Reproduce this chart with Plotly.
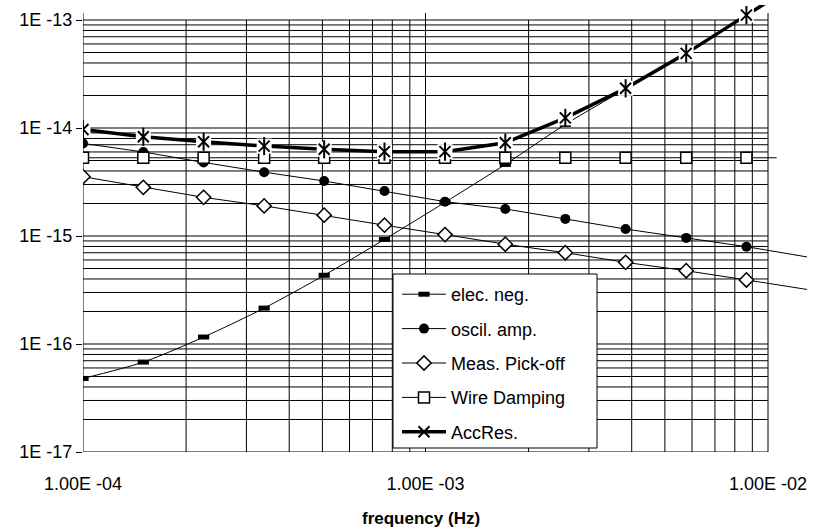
import plotly.graph_objects as go

# ---------------- data ----------------
freq = [1.0e-4, 1.5e-4, 2.25e-4, 3.38e-4, 5.06e-4, 7.59e-4,
        1.14e-3, 1.71e-3, 2.56e-3, 3.84e-3, 5.77e-3, 8.65e-3]
elec_neg = [4.8e-17, 6.8e-17, 1.16e-16, 2.15e-16, 4.33e-16, 9.3e-16,
            2.05e-15, 4.6e-15, 1.08e-14, 2.3e-14, 4.9e-14, 1.1e-13]
oscil_amp = [7.2e-15, 6.0e-15, 4.8e-15, 3.9e-15, 3.23e-15, 2.61e-15,
             2.08e-15, 1.78e-15, 1.44e-15, 1.16e-15, 9.6e-16, 7.96e-16]
meas_pickoff = [3.54e-15, 2.82e-15, 2.28e-15, 1.9e-15, 1.56e-15, 1.26e-15,
                1.03e-15, 8.4e-16, 7.0e-16, 5.7e-16, 4.77e-16, 3.92e-16]
wire_damping = [5.3e-15, 5.3e-15, 5.3e-15, 5.3e-15, 5.3e-15, 5.3e-15,
                5.3e-15, 5.3e-15, 5.3e-15, 5.3e-15, 5.3e-15, 5.3e-15]
acc_res = [9.7e-15, 8.3e-15, 7.46e-15, 6.8e-15, 6.35e-15, 6.04e-15,
           6.04e-15, 7.31e-15, 1.24e-14, 2.33e-14, 4.91e-14, 1.11e-13]

# line continuations beyond the last marker
ext_freq = 1.3e-2
ext_elec = 2.5e-13
ext_osc = 6.4e-16
ext_meas = 3.2e-16
ext_acc = 2.5e-13
ext_wire_freq = 1.06e-2

x_tickvals = [1e-4, 1e-3, 1e-2]
x_ticktext = ["1.00E -04", "1.00E -03", "1.00E -02"]
y_tickvals = [1e-17, 1e-16, 1e-15, 1e-14, 1e-13]
y_ticktext = ["1E -17", "1E -16", "1E -15", "1E -14", "1E -13"]

names = ["elec. neg.", "oscil. amp.", "Meas. Pick-off", "Wire Damping", "AccRes."]

FONT = "Liberation Sans, Arial, sans-serif"

fig = go.Figure()

# ---------------- grid (limited to the 1e-4..1e-2 x 1e-17..1e-13 box) --------
gx, gy = [], []
for e in (-17, -16, -15, -14):
    for k in range(1, 10):
        v = k * 10.0 ** e
        gx += [1e-4, 1e-2, None]
        gy += [v, v, None]
gx += [1e-4, 1e-2, None]
gy += [1e-13, 1e-13, None]
for e in (-4, -3):
    for k in range(2, 10):
        v = k * 10.0 ** e
        gx += [v, v, None]
        gy += [1e-17, 1e-13, None]
for v in x_tickvals:
    gx += [v, v, None]
    gy += [1e-17, 1.16e-13, None]
fig.add_trace(go.Scatter(x=gx, y=gy, mode="lines", showlegend=False,
                         hoverinfo="skip", line=dict(color="black", width=1)))

thin = dict(color="black", width=1)

# elec. neg.
fig.add_trace(go.Scatter(x=[freq[-1], ext_freq], y=[elec_neg[-1], ext_elec], mode="lines",
                         showlegend=False, line=thin))
fig.add_trace(go.Scatter(x=freq, y=elec_neg, mode="lines+markers", name=names[0],
                         legendgroup="a",
                         line=dict(color="black", width=1, shape="spline", smoothing=0.8),
                         marker=dict(symbol="line-ew", size=8, color="black",
                                     line=dict(color="black", width=5))))
# oscil. amp.
fig.add_trace(go.Scatter(x=[freq[-1], ext_freq], y=[oscil_amp[-1], ext_osc], mode="lines",
                         showlegend=False, line=thin))
fig.add_trace(go.Scatter(x=freq, y=oscil_amp, mode="lines+markers", name=names[1],
                         legendgroup="b", line=thin,
                         marker=dict(symbol="circle", size=10, color="black")))
# Meas. Pick-off
fig.add_trace(go.Scatter(x=[freq[-1], ext_freq], y=[meas_pickoff[-1], ext_meas], mode="lines",
                         showlegend=False, line=thin))
fig.add_trace(go.Scatter(x=freq, y=meas_pickoff, mode="lines+markers", name=names[2],
                         legendgroup="c", line=thin,
                         marker=dict(symbol="diamond", size=11, color="white",
                                     line=dict(color="black", width=1.5))))
# Wire Damping
fig.add_trace(go.Scatter(x=[freq[-1], ext_wire_freq], y=[wire_damping[-1], wire_damping[-1]],
                         mode="lines", showlegend=False, line=thin))
fig.add_trace(go.Scatter(x=freq, y=wire_damping, mode="lines+markers", name=names[3],
                         legendgroup="d", line=thin,
                         marker=dict(symbol="square", size=11, color="white",
                                     line=dict(color="black", width=1.5))))
# AccRes.
fig.add_trace(go.Scatter(x=[freq[-1], ext_freq], y=[acc_res[-1], ext_acc], mode="lines",
                         showlegend=False, line=dict(color="black", width=3.5)))
fig.add_trace(go.Scatter(x=freq, y=acc_res, mode="lines+markers", name=names[4],
                         legendgroup="e", line=dict(color="black", width=3.5),
                         marker=dict(symbol="x-thin-open", size=11, color="black",
                                     line=dict(color="black", width=2))))
fig.add_trace(go.Scatter(x=freq, y=acc_res, mode="markers", showlegend=False,
                         hoverinfo="skip",
                         marker=dict(symbol="square", size=15, color="white",
                                     line=dict(width=0))))
fig.add_trace(go.Scatter(x=freq, y=acc_res, mode="markers", showlegend=False,
                         marker=dict(symbol="x-thin-open", size=11, color="black",
                                     line=dict(color="black", width=2))))
fig.add_trace(go.Scatter(x=freq, y=acc_res, mode="markers", showlegend=False,
                         marker=dict(symbol="line-ns-open", size=13, color="black",
                                     line=dict(color="black", width=2))))

# ---------------- layout ----------------
L, R, T, B = 83, 7, 5, 79
W, H = 815, 531
pw = W - L - R
ph = H - T - B


def px(xp):
    return (xp - L) / pw


def py(yp):
    return (H - B - yp) / ph


fig.update_layout(
    width=W, height=H,
    margin=dict(l=L, r=R, t=T, b=B, pad=0, autoexpand=False),
    paper_bgcolor="white", plot_bgcolor="white",
    font=dict(family=FONT, color="black", size=16),
    xaxis=dict(type="log", range=[-4, -4 + pw / 342.5], automargin=False,
               showgrid=False, zeroline=False, showline=False,
               tickvals=x_tickvals, ticktext=x_ticktext, ticks="",
               ticklabelstandoff=19,
               tickfont=dict(family=FONT, size=18, color="black")),
    yaxis=dict(type="log", range=[-17, -17 + ph / 108.0], automargin=False,
               showgrid=False, zeroline=False, showline=False,
               tickvals=y_tickvals, ticktext=y_ticktext,
               ticks="outside", ticklen=6, tickwidth=1, tickcolor="black",
               tickfont=dict(family=FONT, size=18, color="black")),
    showlegend=True,
    legend=dict(x=px(397), y=py(276), xanchor="left", yanchor="top",
                bgcolor="rgba(0,0,0,0)", borderwidth=0,
                traceorder="grouped", tracegroupgap=8, itemwidth=44,
                font=dict(family=FONT, size=18, color="black")),
    shapes=[dict(type="rect", xref="paper", yref="paper", layer="above",
                 x0=px(393), x1=px(597), y0=py(448), y1=py(274),
                 fillcolor="white", line=dict(color="black", width=1))],
    annotations=[dict(text="<b>frequency (Hz)</b>", xref="paper", yref="paper",
                      x=px(421), y=py(518), xanchor="center", yanchor="middle",
                      showarrow=False,
                      font=dict(family=FONT, size=17, color="black"))],
)

fig.write_html("out.html", config={"displayModeBar": False},
               post_script="document.body.style.margin='0px';"
                           "document.body.style.overflow='hidden';")
